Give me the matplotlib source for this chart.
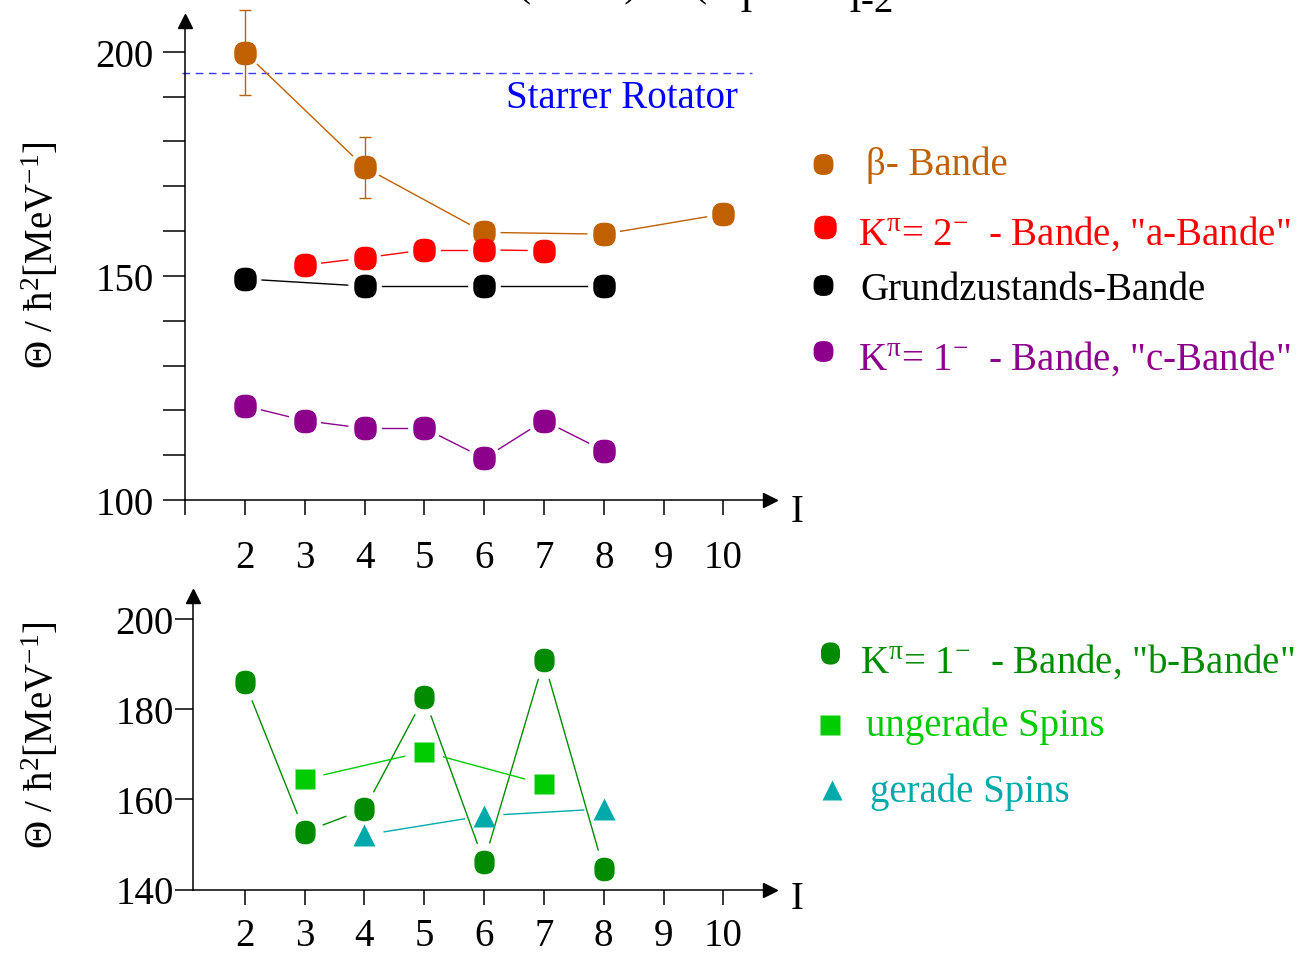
import numpy as np
import matplotlib
matplotlib.use("Agg")
import matplotlib.pyplot as plt
from matplotlib.path import Path

plt.rcParams['font.family'] = ['Liberation Serif', 'DejaVu Serif']
plt.rcParams['mathtext.fontset'] = 'custom'
plt.rcParams['mathtext.rm'] = 'Liberation Serif'
plt.rcParams['mathtext.it'] = 'Liberation Serif:italic'
plt.rcParams['mathtext.bf'] = 'Liberation Serif:bold'

# ---------------- data ----------------
# upper panel
spins_beta = [2, 4, 6, 8, 10]
theta_beta = [199.8, 174.2, 159.7, 159.3, 163.8]
err_beta = [9.4, 6.8, 0, 0, 0]

spins_a = [3, 4, 5, 6, 7]
theta_a = [152.4, 154.0, 155.8, 155.8, 155.6]

spins_gs = [2, 4, 6, 8]
theta_gs = [149.3, 147.7, 147.7, 147.7]

spins_c = [2, 3, 4, 5, 6, 7, 8]
theta_c = [121.0, 117.7, 116.0, 116.0, 109.3, 117.7, 111.0]

theta_rigid = 195.3

# lower panel
spins_b = [2, 3, 4, 5, 6, 7, 8]
theta_b = [186.0, 152.8, 157.8, 182.7, 146.1, 190.9, 144.5]

spins_odd = [3, 5, 7]
theta_odd = [164.5, 170.6, 163.4]

spins_even = [4, 6, 8]
theta_even = [152.1, 156.4, 157.9]

xtick_vals = list(range(1, 11))
xtick_labels = [''] + [str(i) for i in range(2, 11)]

# ---------------- colours ----------------
c_beta = '#C06000'
c_a = '#FF0000'
c_gs = '#000000'
c_c = '#8C008C'
c_b = '#008C00'
c_odd = '#00CC00'
c_even = '#00AAAA'

W, H = 1302, 954
fig = plt.figure(figsize=(W / 100, H / 100), dpi=100)


def px_rect(left, top, right, bottom):
    return [left / W, 1 - bottom / H, (right - left) / W, (bottom - top) / H]


def rounded_marker(w=1.0, h=1.05, r=0.45):
    x0, x1, y0, y1 = -w / 2, w / 2, -h / 2, h / 2
    verts = [(x0 + r, y0), (x1 - r, y0), (x1, y0), (x1, y0 + r),
             (x1, y1 - r), (x1, y1), (x1 - r, y1),
             (x0 + r, y1), (x0, y1), (x0, y1 - r),
             (x0, y0 + r), (x0, y0), (x0 + r, y0), (x0 + r, y0)]
    codes = [Path.MOVETO, Path.LINETO, Path.CURVE3, Path.CURVE3,
             Path.LINETO, Path.CURVE3, Path.CURVE3,
             Path.LINETO, Path.CURVE3, Path.CURVE3,
             Path.LINETO, Path.CURVE3, Path.CURVE3, Path.CLOSEPOLY]
    return Path(verts, codes)


RM = rounded_marker()
RM_OVAL = rounded_marker(w=0.9, h=1.05, r=0.44)


def gapped_line(ax, xs, ys, color, gap=17, lw=1.0):
    pts = ax.transData.transform(np.column_stack([xs, ys]))
    inv = ax.transData.inverted()
    for p0, p1 in zip(pts[:-1], pts[1:]):
        d = p1 - p0
        L = np.hypot(*d)
        if L <= 2 * gap:
            continue
        u = d / L
        a, b = inv.transform(np.array([p0 + u * gap, p1 - u * gap]))
        ax.plot([a[0], b[0]], [a[1], b[1]], color=color, lw=lw, zorder=2)


def style_axes(ax, xlen, ylen, xpad, ypad):
    for s in ('top', 'right'):
        ax.spines[s].set_visible(False)
    for s in ('left', 'bottom'):
        ax.spines[s].set_linewidth(1.1)
    ax.tick_params(axis='x', which='both', direction='out', length=xlen,
                   width=1.1, pad=xpad, labelsize=28)
    ax.tick_params(axis='y', which='both', direction='out', length=ylen,
                   width=1.1, pad=ypad, labelsize=28)
    x0, x1 = ax.get_xlim()
    y0, y1 = ax.get_ylim()
    ax.plot([x1], [y0], marker='>', ms=9.5, color='k', clip_on=False, zorder=5)
    ax.plot([x0], [y1], marker='^', ms=9.5, color='k', clip_on=False, zorder=5)


# ---------------- upper panel ----------------
ax1 = fig.add_axes(px_rect(185.3, 21.5, 770, 501))
ax1.set_xlim(1.0, 10.78)
ax1.set_ylim(100, 206.96)
ax1.set_xticks(xtick_vals)
ax1.set_xticklabels(xtick_labels)
ax1.set_yticks([100, 150, 200])
ax1.set_yticks([110, 120, 130, 140, 160, 170, 180, 190], minor=True)
style_axes(ax1, 10.8, 15.8, 17, 7)

ax1.plot([0.95, 10.48], [theta_rigid, theta_rigid], ls=(0, (5.5, 4)),
         color='#3A3AFF', lw=1.0, clip_on=False)
ax1.text(10.25, 187.6, 'Starrer Rotator', color='#0000FF', fontsize=28,
         ha='right', va='baseline')

gapped_line(ax1, spins_beta, theta_beta, c_beta)
gapped_line(ax1, spins_a, theta_a, c_a)
gapped_line(ax1, spins_gs, theta_gs, c_gs)
gapped_line(ax1, spins_c, theta_c, c_c)

eb_x = [s for s, e in zip(spins_beta, err_beta) if e > 0]
eb_y = [t for t, e in zip(theta_beta, err_beta) if e > 0]
eb_e = [e for e in err_beta if e > 0]
ax1.errorbar(eb_x, eb_y, yerr=eb_e, fmt='none', ecolor=c_beta, elinewidth=1.0,
             capsize=4.3, capthick=1.0, clip_on=False, zorder=3)

ms_top = 17
ax1.plot(spins_beta, theta_beta, ls='none', marker=RM, ms=ms_top, color=c_beta,
         mec='none', zorder=4, clip_on=False)
ax1.plot(spins_a, theta_a, ls='none', marker=RM, ms=ms_top, color=c_a,
         mec='none', zorder=4)
ax1.plot(spins_gs, theta_gs, ls='none', marker=RM, ms=ms_top, color=c_gs,
         mec='none', zorder=4)
ax1.plot(spins_c, theta_c, ls='none', marker=RM, ms=ms_top, color=c_c,
         mec='none', zorder=4)

# ---------------- lower panel ----------------
ax2 = fig.add_axes(px_rect(193.3, 596.5, 770, 890.5))
ax2.set_xlim(1.14, 10.78)
ax2.set_ylim(140, 205.3)
ax2.set_xticks(xtick_vals[1:])
ax2.set_xticklabels(xtick_labels[1:])
ax2.set_yticks([140, 160, 180, 200])
style_axes(ax2, 10.8, 13, 9, 1)

gapped_line(ax2, spins_b, theta_b, c_b, gap=20)
gapped_line(ax2, spins_odd, theta_odd, c_odd, gap=20)
gapped_line(ax2, spins_even, theta_even, c_even, gap=20)

ax2.plot(spins_b, theta_b, ls='none', marker=RM_OVAL, ms=17, color=c_b, mec='none', zorder=4)
ax2.plot(spins_odd, theta_odd, ls='none', marker='s', ms=15, color=c_odd, mec='none', zorder=4)
ax2.plot(spins_even, theta_even, ls='none', marker='^', ms=16, color=c_even, mec='none', zorder=4)

# ---------------- axis labels ----------------
ylab = 'Θ / ħ$^{2}$[MeV$^{-1}$]'
fig.text(42 / W, 1 - 255 / H, ylab, rotation=90, ha='center', va='center', fontsize=28)
fig.text(42 / W, 1 - 735 / H, ylab, rotation=90, ha='center', va='center', fontsize=28)
fig.text(797 / W, 1 - 512 / H, 'I', ha='center', va='center', fontsize=28)
fig.text(797 / W, 1 - 900 / H, 'I', ha='center', va='center', fontsize=28)

# ---------------- legends (overlay in pixel coordinates) ----------------
lax = fig.add_axes([0, 0, 1, 1])
lax.set_xlim(0, W)
lax.set_ylim(H, 0)
lax.axis('off')
lax.patch.set_alpha(0)

legend_entries = [
    (823, 165, RM, 15, c_beta, 866, 175, 'β- Bande'),
    (825, 228, RM, 17, c_a, 858, 245, 'K$^{\\mathrm{π}}$= 2$^{-}$  - Bande, "a-Bande"'),
    (823, 286, RM, 15, c_gs, 860, 300, 'Grundzustands-Bande'),
    (823, 352, RM, 15, c_c, 858, 370, 'K$^{\\mathrm{π}}$= 1$^{-}$  - Bande, "c-Bande"'),
    (830, 654, RM_OVAL, 16, c_b, 860, 673, 'K$^{\\mathrm{π}}$= 1$^{-}$  - Bande, "b-Bande"'),
    (830, 726, 's', 14, c_odd, 866, 736, 'ungerade Spins'),
    (832, 791, '^', 15, c_even, 870, 802, 'gerade Spins'),
]
for mx, my, mk, ms, col, tx, ty, txt in legend_entries:
    lax.plot([mx], [my], ls='none', marker=mk, ms=ms, color=col, mec='none')
    lax.text(tx, ty, txt, color=col, fontsize=28, ha='left', va='baseline')

# ---------------- cut-off title at the top (as in the reference) ----------------
lax.text(518, -4, '(2I − 1)', fontsize=28, ha='left', va='baseline', clip_on=False)
lax.text(693, -4, '(E', fontsize=28, ha='left', va='baseline', clip_on=False)
lax.text(740, 12, 'I', fontsize=28, ha='left', va='baseline', clip_on=False)
lax.text(849, 12, 'I-2', fontsize=28, ha='left', va='baseline', clip_on=False)

fig.savefig('out.png', dpi=100)
